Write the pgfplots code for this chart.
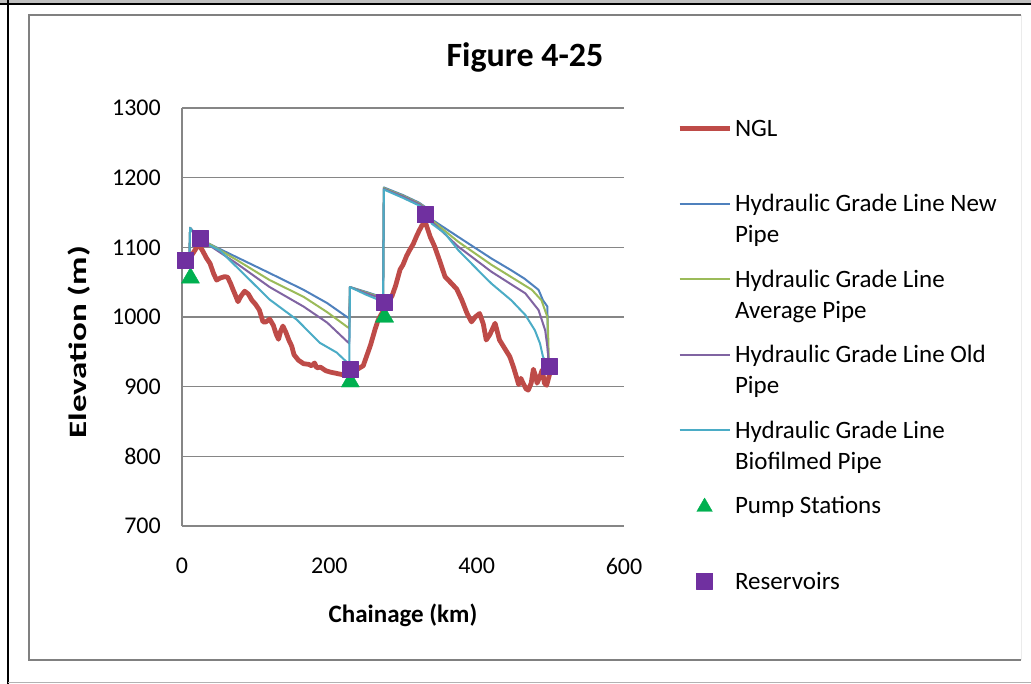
\documentclass[border=0pt]{standalone}
\usepackage{fontspec}
\setmainfont{Carlito}
\usepackage{pgfplots}
\pgfplotsset{compat=1.18}
\definecolor{ngl}{HTML}{BE4B48}
\definecolor{hnew}{HTML}{4F81BD}
\definecolor{havg}{HTML}{9BBB59}
\definecolor{hold}{HTML}{8064A2}
\definecolor{hbio}{HTML}{4BACC6}
\definecolor{pump}{HTML}{00B050}
\definecolor{resv}{HTML}{7030A0}
\definecolor{gridc}{HTML}{868686}
\pgfplotsset{
  lineleg/.style={legend image code/.code={\draw[##1] (0pt,0pt) -- (50pt,0pt);}},
  markleg/.style={legend image code/.code={\draw[##1] plot coordinates {(25pt,0pt)};}},
}
\begin{document}
\begin{tikzpicture}[x=1pt,y=1pt]
\path[use as bounding box] (0,0) rectangle (1031,-684);
\fill[white] (0,0) rectangle (1031,-684);
\fill[black!25] (0,0) rectangle (1031,-3);
\draw[black, line width=2.2pt] (0,-4) -- (1031,-4);
\draw[black, line width=2.2pt] (8,0) -- (8,-684);
\draw[black!30, line width=1.5pt] (8,-682.5) -- (1031,-682.5);
\draw[black!50, line width=2pt] (1021,-14.8) -- (29,-14.8) -- (29,-660) -- (1021,-660);
\draw[black!8, line width=1pt] (1021.5,-14.8) -- (1021.5,-660);
\node[anchor=base, font=\bfseries\fontsize{34}{40}\selectfont] at (525,-67) {Figure 4-25};
\begin{axis}[
  at={(182pt,-526pt)}, anchor=south west,
  scale only axis, width=442pt, height=418pt,
  xmin=0, xmax=600, ymin=700, ymax=1300,
  xtick={0,200,400,600}, ytick={700,800,...,1300},
  axis lines=left, axis line style={-, draw=gridc, line width=1.5pt},
  ymajorgrids, grid style={draw=gridc, line width=1.5pt},
  major tick length=0pt,
  /pgf/number format/assume math mode=true,
  /pgf/number format/1000 sep={},
  tick label style={font=\fontsize{24}{28}\selectfont, text=black},
  yticklabel style={anchor=east, inner sep=0pt, xshift=-21pt},
  xticklabel style={anchor=north, inner sep=0pt, yshift=-32pt},
  xlabel={Chainage (km)}, ylabel={\scalebox{1.4}[1]{Elevation (m)}},
  label style={font=\bfseries\fontsize{25}{30}\selectfont},
  xlabel style={at={(axis description cs:0.5,-0.232)}, anchor=base},
  ylabel style={at={(axis description cs:-0.215,0.44)}, anchor=base},
  legend style={at={(axis description cs:1.1199,1.0215)}, anchor=north west,
    draw=none, fill=none, inner sep=0pt, row sep=17pt, column sep=3pt,
    font=\fontsize{25}{31}\selectfont,
    nodes={inner sep=0pt, text height=37pt, text depth=21.5pt}},
  legend cell align=left,
  every axis plot/.append style={line join=round},
  clip=false,
]
\addplot[ngl, line width=4.8pt, lineleg] coordinates {
(2,1080)(8,1083)(14,1090)(20,1100)(24,1102)(28,1095)(33,1085)(38,1077)(43,1062)(47,1053)(52,1056)(58,1058)(62,1057)(66,1048)(69,1040)(73,1030)(76,1022)(80,1030)(85,1037)(90,1033)(95,1024)(100,1018)(105,1010)(110,993)(114,993)(119,997)(124,988)(128,975)(131,968)(134,980)(137,987)(141,978)(145,967)(149,958)(152,946)(158,938)(165,933)(172,932)(176,930)(180,934)(183,927)(188,928)(195,923)(201,921)(210,919)(219,917)(225,918)(230,922)(238,925)(246,930)(251,945)(256,960)(262,982)(266,995)(270,1003)(274,1010)(280,1022)(285,1030)(290,1045)(296,1068)(300,1075)(305,1088)(309,1096)(314,1105)(318,1115)(322,1124)(326,1132)(331,1134)(337,1115)(343,1101)(350,1080)(357,1058)(366,1048)(373,1040)(380,1024)(387,1005)(393,993)(398,1000)(404,1005)(409,990)(413,967)(418,975)(425,991)(431,967)(438,955)(445,943)(450,928)(454,914)(457,903)(460,912)(463,905)(467,897)(470,895)(474,905)(477,925)(480,915)(482,905)(486,915)(489,924)(492,905)(495,902)(499,918)(501,925)
};
\addlegendentry{\parbox[t]{290pt}{\strut NGL}}
\addplot[hnew, line width=2pt, lineleg] coordinates {
(10,1083)(11,1128)(18,1120)(24,1114)(35,1106)(74,1086)(119,1063)(165,1039)(197,1020)(224,1000)(227,998)(228,1043)(250,1036)(273,1028)(274,1186)(300,1175)(322,1164)(330,1158)(339,1140)(375,1115)(420,1084)(447,1067)(465,1055)(484,1039)(490,1024)(496,1015)(497,935)
};
\addlegendentry{\parbox[t]{290pt}{\strut Hydraulic Grade Line New\\Pipe\strut}}
\addplot[havg, line width=2pt, lineleg] coordinates {
(10,1083)(11,1128)(18,1119)(24,1113)(74,1082)(119,1053)(165,1029)(197,1007)(224,986)(227,984)(228,1043)(250,1035)(273,1027)(274,1185)(300,1174)(322,1163)(330,1157)(339,1139)(375,1108)(420,1075)(475,1039)(488,1024)(496,1000)(497,977)(498,935)
};
\addlegendentry{\parbox[t]{290pt}{\strut Hydraulic Grade Line\\Average Pipe\strut}}
\addplot[hold, line width=2pt, lineleg] coordinates {
(10,1083)(11,1128)(18,1118)(24,1112)(74,1077)(119,1043)(165,1015)(197,992)(224,965)(227,962)(228,1043)(250,1034)(273,1026)(274,1184)(300,1173)(322,1162)(330,1156)(339,1137)(375,1101)(420,1065)(466,1034)(484,1010)(493,981)(496,957)(498,935)
};
\addlegendentry{\parbox[t]{290pt}{\strut Hydraulic Grade Line Old\\Pipe\strut}}
\addplot[hbio, line width=2pt, lineleg] coordinates {
(10,1083)(11,1128)(18,1117)(24,1110)(52,1095)(74,1072)(119,1025)(156,996)(187,963)(210,949)(226,933)(227,926)(228,1043)(250,1032)(273,1022)(274,1183)(300,1171)(322,1160)(330,1154)(339,1134)(357,1120)(375,1096)(402,1067)(420,1048)(447,1024)(466,1003)(479,981)(486,962)(490,943)(494,935)(498,930)
};
\addlegendentry{\parbox[t]{290pt}{\strut Hydraulic Grade Line\\Biofilmed Pipe\strut}}
\addplot[only marks, mark=triangle*, mark size=10.5pt, mark options={fill=pump, draw=pump}, legend image code/.code={\draw[mark size=9pt, mark=triangle*, fill=pump, draw=pump] plot coordinates {(25pt,-1pt)};}] coordinates {
(11.5,1056)(228.5,907)(275,1000)
};
\addlegendentry{\parbox[t]{290pt}{\strut Pump Stations}}
\addplot[only marks, mark=square*, mark size=8pt, mark options={fill=resv, draw=resv}, markleg] coordinates {
(4,1082)(24.4,1113)(228,925)(274.7,1021)(330,1147)(498.6,930)
};
\addlegendentry{\parbox[t]{290pt}{\strut Reservoirs}}
\end{axis}
\end{tikzpicture}
\end{document}
